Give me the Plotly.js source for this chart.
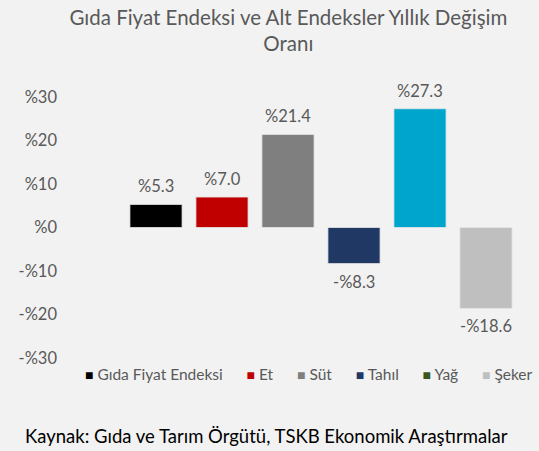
<!DOCTYPE html>
<html>
<head>
<meta charset="utf-8">
<script src="https://cdn.plot.ly/plotly-3.0.1.min.js"></script>
<style>html,body{margin:0;padding:0;background:#f2f2f2;}</style>
</head>
<body>
<div id="chart" style="width:539px;height:451px;"></div>
<script>
const categories = ["Gıda Fiyat Endeksi", "Et", "Süt", "Tahıl", "Yağ", "Şeker"];
const values = [5.3, 7.0, 21.4, -8.3, 27.3, -18.6];
const barColors = ["#000000", "#c00000", "#7f7f7f", "#1f3864", "#00a5ce", "#bfbfbf"];
const legendColors = ["#000000", "#c00000", "#7f7f7f", "#1f3864", "#375623", "#bfbfbf"];
const tickVals = [-30, -20, -10, 0, 10, 20, 30];
const tickText = ["-%30", "-%20", "-%10", "%0", "%10", "%20", "%30"];
const labelText = ["%5.3", "%7.0", "%21.4", "-%8.3", "%27.3", "-%18.6"];

const FONT = "Lato, sans-serif";
const GREY = "#595959";

const traces = categories.map((c, i) => ({
  type: "bar", x: [c], y: [values[i]], name: c, width: 0.79,
  marker: {color: barColors[i], line: {color: "#e6e6e6", width: 0.8}},
  showlegend: false, hoverinfo: "skip"
}));

const annotations = categories.map((c, i) => ({
  x: c, y: values[i], xref: "x", yref: "y",
  text: labelText[i], showarrow: false,
  yanchor: values[i] >= 0 ? "bottom" : "top",
  yshift: values[i] >= 0 ? 6 : -6,
  font: {family: FONT, size: 16.5, color: GREY}
}));

// legend row built from the category names and legend colours
const NB = "&nbsp;";
const legendText = categories.map((c, i) =>
  '<span style="color:' + legendColors[i] + ';font-size:14px">■</span>' + NB + c
).join(NB.repeat(6));
annotations.push({
  xref: "paper", yref: "paper", x: 0.4697, y: -0.062,
  xanchor: "center", yanchor: "middle", showarrow: false,
  text: legendText,
  font: {family: FONT, size: 15.5, color: GREY}
});

annotations.push({
  xref: "paper", yref: "paper", x: -0.2525, y: -0.299,
  xanchor: "left", yanchor: "middle", showarrow: false,
  text: "Kaynak: Gıda ve Tarım Örgütü, TSKB Ekonomik Araştırmalar",
  font: {family: FONT, size: 18.5, color: "#000000"}
});

const layout = {
  width: 539, height: 451,
  paper_bgcolor: "#f2f2f2", plot_bgcolor: "#f2f2f2",
  margin: {l: 123, r: 20, t: 97, b: 93},
  barmode: "overlay",
  title: {
    text: "Gıda Fiyat Endeksi ve Alt Endeksler Yıllık Değişim<br>Oranı",
    x: 0.535, xanchor: "center", y: 0.945, yanchor: "top",
    font: {family: FONT, size: 20.5, color: GREY}
  },
  xaxis: {
    type: "category", categoryorder: "array", categoryarray: categories,
    showticklabels: false, showgrid: false, zeroline: false, showline: false,
    ticks: "", fixedrange: true
  },
  yaxis: {
    range: [-30, 30], tickvals: tickVals, ticktext: tickText,
    showgrid: false, zeroline: false, showline: false, ticks: "",
    ticklabelstandoff: 65,
    tickfont: {family: FONT, size: 16.5, color: GREY}, automargin: false
  },
  annotations: annotations,
  showlegend: false
};

Plotly.newPlot("chart", traces, layout, {displayModeBar: false, staticPlot: true});
</script>
</body>
</html>
